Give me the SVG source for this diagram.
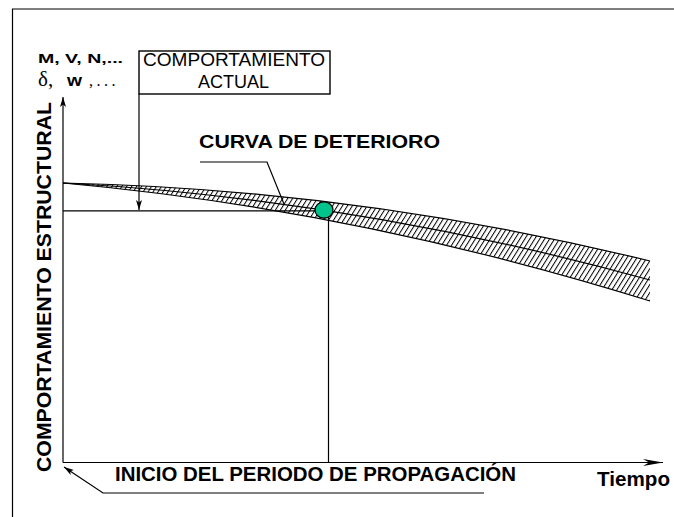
<svg xmlns="http://www.w3.org/2000/svg" width="674" height="517" viewBox="0 0 674 517">
<style>
.ln{stroke:#000;fill:none;stroke-width:1.2}
.b{font-family:"Liberation Sans",Arial,sans-serif;font-weight:bold;fill:#000}
.r{font-family:"Liberation Sans",Arial,sans-serif;fill:#000}
</style>
<defs>
<marker id="arr" markerUnits="userSpaceOnUse" viewBox="0 0 10 6" refX="10" refY="3" markerWidth="10" markerHeight="6" orient="auto">
<path d="M0,0 L10,3 L0,6 L2.5,3 z" fill="#000"/>
</marker>
<marker id="arrL" markerUnits="userSpaceOnUse" viewBox="0 0 20 8" refX="20" refY="4" markerWidth="20" markerHeight="8" orient="auto">
<path d="M0,0.5 L20,4 L0,7.5 L6,4 z" fill="#000"/>
</marker>
<pattern id="hatch" width="4.2" height="4.2" patternUnits="userSpaceOnUse" patternTransform="rotate(32)">
<line x1="0" y1="0" x2="0" y2="4.2" stroke="#000" stroke-width="2"/>
</pattern>
</defs>
<rect width="674" height="517" fill="#fff"/>
<!-- frame -->
<path d="M12.5,517 V9 H674" class="ln" stroke-width="1.8"/>
<g id="curve">
<path d="M63,183 Q356.5,189 650,261 L650,301 Q356.5,209.5 63,183 Z" fill="url(#hatch)"/>
<path d="M63,183 Q356.5,189 650,261" class="ln" stroke-width="1.8"/>
<path d="M63,183 Q356.5,209.5 650,301" class="ln" stroke-width="1.8"/>
<path d="M63,183 Q356.5,199.1 650,280" class="ln" stroke-width="2.6"/>
</g>
<g id="connectors">
<line x1="63" y1="462.5" x2="663" y2="462.5" class="ln" stroke-width="1.4" marker-end="url(#arrL)"/>
<line x1="63" y1="462.5" x2="63" y2="97" class="ln" stroke-width="1.4" marker-end="url(#arr)"/>
<line x1="139" y1="94" x2="139" y2="210" class="ln" stroke-width="1.4" marker-end="url(#arr)"/>
<line x1="63" y1="210.8" x2="318" y2="210.8" class="ln" stroke-width="1"/>
<line x1="328.5" y1="217" x2="328.5" y2="462" class="ln" stroke-width="1"/>
<path d="M200,162 H267 L284,204" class="ln" stroke-width="1"/>
<path d="M484,493 H103 L64,467" class="ln" stroke-width="1" marker-end="url(#arr)"/>
</g>
<g id="box">
<rect x="139" y="51" width="191" height="43" fill="#fff" stroke="#000" stroke-width="1.4"/>
<text class="r" x="143" y="65.5" font-size="18" textLength="182" lengthAdjust="spacingAndGlyphs">COMPORTAMIENTO</text>
<text class="r" x="233.5" y="88" font-size="18" text-anchor="middle">ACTUAL</text>
</g>
<g id="dot">
<ellipse cx="324" cy="210" rx="9" ry="8.2" fill="#00c48c" stroke="#000" stroke-width="1.2"/>
</g>
<g id="labels">
<text class="b" x="38" y="63" font-size="12" textLength="85" lengthAdjust="spacingAndGlyphs">M, V, N,...</text>
<text x="38" y="86" font-size="21" font-family="'Liberation Serif','Times New Roman',serif">δ,</text>
<text class="b" x="67" y="86" font-size="16" textLength="15" lengthAdjust="spacingAndGlyphs">w</text>
<text x="89" y="86" font-size="16" font-family="'Liberation Serif','Times New Roman',serif" letter-spacing="3.5">,...</text>
<text class="b" x="199" y="148" font-size="18.5" textLength="241" lengthAdjust="spacingAndGlyphs">CURVA DE DETERIORO</text>
<text class="b" transform="translate(50.5,472) rotate(-90)" font-size="19.5" textLength="370" lengthAdjust="spacingAndGlyphs">COMPORTAMIENTO ESTRUCTURAL</text>
<text class="b" x="115" y="481" font-size="19.5" textLength="401" lengthAdjust="spacingAndGlyphs">INICIO DEL PERIODO DE PROPAGACIÓN</text>
<text class="b" x="597" y="486" font-size="20" textLength="73" lengthAdjust="spacingAndGlyphs">Tiempo</text>
</g>
</svg>
